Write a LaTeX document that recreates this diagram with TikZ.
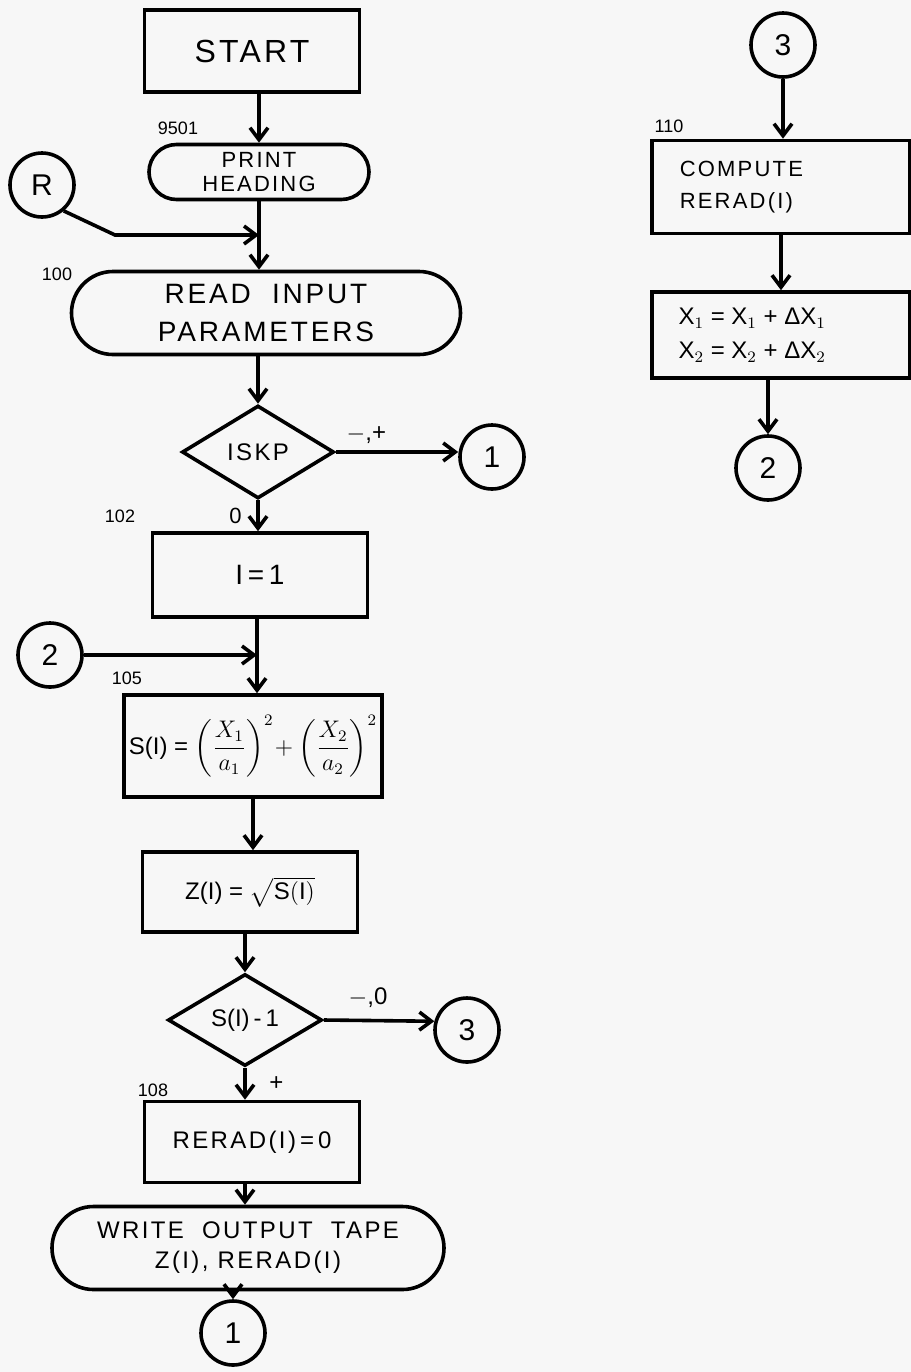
\documentclass[tikz,border=0pt]{standalone}
\usepackage{amsmath}
\usepackage{fontspec}
\setmainfont{Liberation Sans}
\newfontfamily\hand[LetterSpace=10]{Liberation Sans}
\usetikzlibrary{shapes.geometric,shapes.misc,arrows.meta}
\begin{document}
\begin{tikzpicture}[x=0.5pt,y=-0.5pt,line width=1.8pt,
  box/.style={draw,rectangle,inner sep=2pt,align=center},
  term/.style={draw,rounded rectangle,inner sep=2pt,align=center},
  dec/.style={draw,diamond,inner sep=0pt},
  conn/.style={draw,circle,inner sep=0pt,minimum size=32pt,font=\hand\fontsize{15}{18}\selectfont},
  lbl/.style={font=\fontsize{9}{10}\selectfont,inner sep=0pt},
  arr/.style={-{Straight Barb[length=6pt,width=9pt]}},
  big/.style={font=\hand\fontsize{16}{20}\selectfont},
  med/.style={font=\hand\fontsize{12}{15}\selectfont},
  mid/.style={font=\hand\fontsize{14}{19}\selectfont}
]
\path[use as bounding box,fill={rgb,255:red,247;green,247;blue,247}] (0,0) rectangle (911,1372);

% main column
\node[box,big,minimum width=107.5pt,minimum height=41pt] (start) at (252,51) {START};
\node[term,med,minimum width=114pt,minimum height=27.5pt,font=\hand\fontsize{11}{12}\selectfont] (print) at (259,172) {PRINT\\HEADING};
\node[conn] (R) at (42,185) {R};
\node[term,mid,minimum width=198.5pt,minimum height=41.5pt] (read) at (266,313) {READ\ \ INPUT\\PARAMETERS};
\node[dec,med,minimum width=76pt,minimum height=46.5pt] (iskp) at (258,452) {ISKP};
\node[conn] (c1a) at (492,457) {1};
\node[box,mid,minimum width=107.5pt,minimum height=42pt] (i1) at (260,575) {I\,=\,1};
\node[conn] (c2a) at (50,655) {2};
\node[box,minimum width=129pt,minimum height=51pt,font=\fontsize{12}{14}\selectfont] (sbox) at (253,746)
  {S(I) = $\left(\dfrac{X_1}{a_1}\right)^{2}\!+\left(\dfrac{X_2}{a_2}\right)^{2}$};
\node[box,minimum width=107.5pt,minimum height=40pt,font=\fontsize{12}{14}\selectfont] (zbox) at (250,892)
  {Z(I) = $\sqrt{\mathrm{S(I)}}$};
\node[dec,minimum width=77pt,minimum height=46pt,font=\fontsize{12}{14}\selectfont] (sdec) at (245,1020) {S(I)\,-\,1};
\node[conn] (c3a) at (467,1030) {3};
\node[box,med,minimum width=107.5pt,minimum height=40.5pt] (rerad) at (252,1142) {RERAD(I)\,=\,0};
\node[term,med,minimum width=200pt,minimum height=41.5pt] (write) at (248,1248) {WRITE\ \ OUTPUT\ \ TAPE\\Z(I), RERAD(I)};
\node[conn] (c1b) at (233,1333) {1};

% right column
\node[conn] (c3b) at (783,45) {3};
\node[box,med,minimum width=129pt,minimum height=46.5pt,align=left,font=\hand\fontsize{11}{16}\selectfont] (comp) at (781,187) {COMPUTE\hspace*{3.6em}\\RERAD(I)\hspace*{3.6em}};
\node[box,minimum width=129pt,minimum height=43pt,align=left,font=\fontsize{12}{17}\selectfont] (xbox) at (781,335)
  {X$_1$ = X$_1$ + ΔX$_1$\hspace*{2.4em}\\X$_2$ = X$_2$ + ΔX$_2$\hspace*{2.4em}};
\node[conn] (c2b) at (768,468) {2};

% labels
\node[lbl] (l9501) at (178,128) {9501};
\node[lbl] (l100) at (57,274) {100};
\node[lbl] (l102) at (120,516) {102};
\node[lbl] (l105) at (127,678) {105};
\node[lbl] (l108) at (153,1090) {108};
\node[lbl] (l110) at (669,126) {110};

% junction points
\coordinate (rj) at (259,235);
\coordinate (rbend) at (115,235);
\coordinate (j2) at (257,655);

% connectors
\draw[arr] (start.south -| print.north) -- (print.north);
\draw (print.south) -- (rj);
\draw[arr] (rj) -- (read.north -| print.south);
\draw[arr] (R.-50) -- (rbend) -- (rj);
\draw[arr] (read.south -| iskp.north) -- (iskp.north);
\draw[arr] (iskp.east) -- (c1a.west |- iskp.east)
  node[pos=0.25,above,font=\fontsize{12}{14}\selectfont] {$-$,+};
\draw[arr] (iskp.south) -- (i1.north -| iskp.south)
  node[midway,left=4pt,font=\fontsize{11}{12}\selectfont] {0};
\draw (i1.south -| j2) -- (j2);
\draw[arr] (j2) -- (sbox.north -| j2);
\draw[arr] (c2a.east) -- (j2);
\draw[arr] (sbox.south) -- (zbox.north -| sbox.south);
\draw[arr] (zbox.south -| sdec.north) -- (sdec.north);
\draw[arr] (sdec.east) -- (c3a.165)
  node[pos=0.4,above=2pt,font=\fontsize{12}{14}\selectfont] {$-$,0};
\draw[arr] (sdec.south) -- (rerad.north -| sdec.south)
  node[midway,right=8pt,font=\fontsize{12}{14}\selectfont] {+};
\draw[arr] (rerad.south -| sdec.south) -- (write.north -| sdec.south);
\draw[arr] (write.south -| c1b.north) -- (c1b.north);
\draw[arr] (c3b.south) -- (comp.north -| c3b.south);
\draw[arr] (comp.south) -- (xbox.north);
\draw[arr] (xbox.south -| c2b.north) -- (c2b.north);
\end{tikzpicture}
\end{document}
